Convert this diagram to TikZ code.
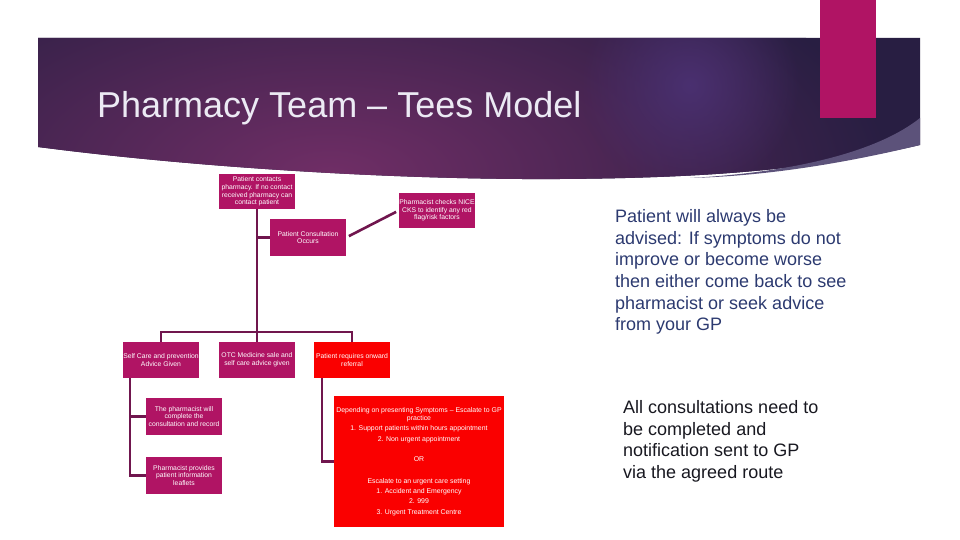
\documentclass[tikz,border=0pt]{standalone}
\usepackage{fontspec}
\setmainfont{Liberation Sans}
\usepackage{xcolor}
\usetikzlibrary{positioning, calc, fadings}

\definecolor{teesPink}{RGB}{176,20,100}
\definecolor{teesRed}{RGB}{250,0,0}
\definecolor{teesLine}{RGB}{112,22,78}
\definecolor{bannerDark}{RGB}{40,30,66}
\definecolor{bannerGlow}{RGB}{112,46,102}
\definecolor{bannerBlue}{RGB}{74,48,112}
\definecolor{bannerEdge}{RGB}{92,82,122}
\definecolor{noteBlue}{RGB}{44,58,112}
\definecolor{noteDark}{RGB}{24,24,32}
\definecolor{titleWhite}{RGB}{236,234,244}
\tikzfading[name=glowfade, inner color=transparent!0, outer color=transparent!100]

\begin{document}
\begin{tikzpicture}[x=1pt, y=-1pt,
  box/.style={rectangle, fill=teesPink, text=white, minimum width=76pt, minimum height=36pt,
    inner sep=0pt, align=center, font=\fontsize{6.8}{7.6}\selectfont},
  redbox/.style={box, fill=teesRed},
  link/.style={draw=teesLine, line width=2.6pt},
  note/.style={anchor=north west, inner sep=0pt, align=left, font=\fontsize{18}{21.65}\selectfont}]
  \useasboundingbox (0,0) rectangle (960,540);

  % Banner
  \begin{scope}
    \clip (38,38) -- (920,38) -- (920,145) .. controls (820,168) and (720,178) .. (560,179)
      .. controls (400,180) and (200,168) .. (38,147) -- cycle;
    \fill[bannerDark] (0,0) rectangle (960,200);
    \shade[inner color=bannerGlow, outer color=bannerDark] (330,175) ellipse (560 and 260);
    \fill[bannerBlue, path fading=glowfade] (690,85) circle (110);
  \end{scope}
  \fill[bannerEdge] (690,178) .. controls (800,172) and (880,150) .. (920,118)
    -- (920,145) .. controls (850,162) and (770,176) .. (690,178) -- cycle;
  \fill[teesPink] (820,0) rectangle (876,118);
  \node[anchor=base west, inner sep=0pt, text=titleWhite, font=\fontsize{36}{40}\selectfont]
    (title) at (97,118) {Pharmacy Team – Tees Model};

  % Boxes
  \node[box, minimum height=35pt] (contact) at (257,191.5)
    {Patient contacts\\pharmacy. If no contact\\received pharmacy can\\contact patient};
  \node[box, minimum height=35pt] (checks) at (437,210.5)
    {Pharmacist checks NICE\\CKS to identify any red\\flag/risk factors};
  \node[box, minimum height=37pt] (consult) at (308,237.5) {Patient Consultation\\Occurs};
  \node[box] (selfcare) at (161,360) {Self Care and prevention\\Advice Given};
  \node[box] (otc) at (257,360) {OTC Medicine sale and\\self care advice given};
  \node[redbox] (referral) at (352,360) {Patient requires onward\\referral};
  \node[box, minimum height=37pt] (record) at (184,416.5)
    {The pharmacist will\\complete the\\consultation and record};
  \node[box, minimum height=37pt] (leaflet) at (184,475.5)
    {Pharmacist provides\\patient information\\leaflets};
  \node[redbox, minimum width=170pt, minimum height=131pt, font=\fontsize{6.9}{8}\selectfont]
    (escalate) at (419,461.5)
    {Depending on presenting Symptoms – Escalate to GP\\
     practice\\[2.5pt]
     1. Support patients within hours appointment\\[2.5pt]
     2. Non urgent appointment\\[12pt]
     OR\\[14pt]
     Escalate to an urgent care setting\\[2pt]
     1. Accident and Emergency\\[2.5pt]
     2. 999\\[2.5pt]
     3. Urgent Treatment Centre};

  % Connectors
  \coordinate (bus) at (257,332);
  \draw[link] (contact.south) -- (otc.north);
  \draw[link] (contact.south |- consult.west) -- (consult.west);
  \draw[link, shorten <=3pt, shorten >=3pt] (consult.east) -- (checks.west);
  \draw[link] (selfcare.north) |- (bus) -| (referral.north);
  \draw[link] ([xshift=-31pt]selfcare.south) |- (record.west);
  \draw[link] ([xshift=-31pt]selfcare.south) |- (leaflet.west);
  \draw[link] ([xshift=-30pt]referral.south) |- (escalate.west);

  % Notes
  \node[note, text=noteBlue] (advice) at (615,209.3)
    {Patient will always be\\advised:  If symptoms do not\\improve or become worse\\then either come back to see\\pharmacist or seek advice\\from your GP};
  \node[note, text=noteDark] (route) at (623,400.3)
    {All consultations need to\\be completed and\\notification sent to GP\\via the agreed route};
\end{tikzpicture}
\end{document}
